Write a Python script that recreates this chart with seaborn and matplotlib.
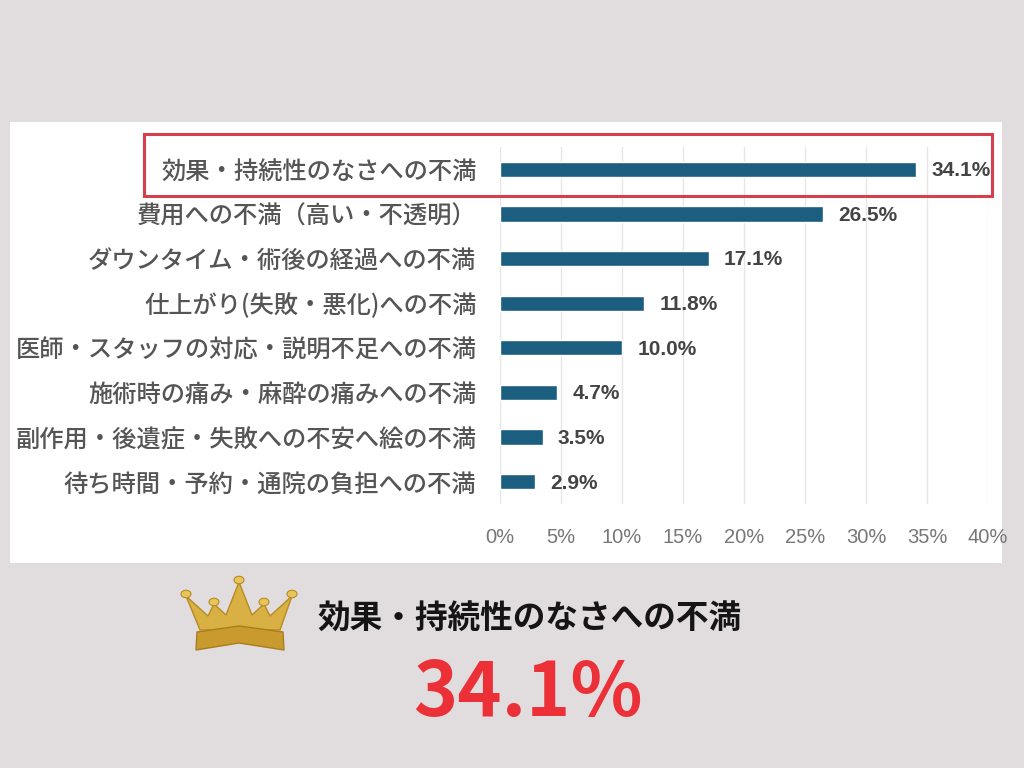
import matplotlib
matplotlib.use("Agg")
import matplotlib.pyplot as plt
from matplotlib.patches import Rectangle, Polygon, Circle
import seaborn as sns
import pandas as pd

categories = [
    "効果・持続性のなさへの不満",
    "費用への不満（高い・不透明）",
    "ダウンタイム・術後の経過への不満",
    "仕上がり(失敗・悪化)への不満",
    "医師・スタッフの対応・説明不足への不満",
    "施術時の痛み・麻酔の痛みへの不満",
    "副作用・後遺症・失敗への不安へ絵の不満",
    "待ち時間・予約・通院の負担への不満",
]
values = [34.1, 26.5, 17.1, 11.8, 10.0, 4.7, 3.5, 2.9]
x_ticks = [0, 5, 10, 15, 20, 25, 30, 35, 40]
x_tick_labels = [f"{t}%" for t in x_ticks]
highlight_label = "効果・持続性のなさへの不満"
highlight_value = "34.1%"

sns.set_theme(style="white")
plt.rcParams["font.family"] = ["Noto Sans CJK JP", "DejaVu Sans"]

W, H = 1024, 768
fig = plt.figure(figsize=(W / 100, H / 100), dpi=100)
fig.patch.set_facecolor("#e1dddf")

def fx(x):
    return x / W

def fy(y):
    return 1 - y / H

# white panel
fig.add_artist(Rectangle((fx(10), fy(563)), fx(1002) - fx(10), fy(122) - fy(563),
                         transform=fig.transFigure, facecolor="white", edgecolor="none", zorder=0))

ax = fig.add_axes([fx(500), fy(504), fx(988) - fx(500), fy(147) - fy(504)])
ax.set_facecolor("none")
df = pd.DataFrame({"cat": categories, "val": values})
sns.barplot(data=df, y="cat", x="val", orient="h", color="#1b5e80", width=0.34,
            saturation=1, ax=ax, zorder=3)
ax.set_xlim(0, 40)
ax.set_ylim(len(categories) - 0.5, -0.5)
ax.set_xticks(x_ticks)
ax.set_xticklabels(x_tick_labels, fontsize=14.5, color="#777777", family=["Liberation Sans", "DejaVu Sans"])
ax.set_yticks(range(len(categories)))
ax.set_yticklabels(categories, fontsize=17.5, color="#555555", fontweight="medium")
ax.tick_params(axis="x", length=0, pad=17)
ax.tick_params(axis="y", length=0, pad=17)
ax.set_xlabel("")
ax.set_ylabel("")
for s in ax.spines.values():
    s.set_visible(False)
ax.xaxis.grid(True, color="#e6e6e6", linewidth=1.0, zorder=0)
ax.yaxis.grid(False)

for i, v in enumerate(values):
    ax.annotate(f"{v:.1f}%", xy=(v, i), xytext=(11, -1), textcoords="offset points",
                ha="left", va="center", fontsize=15, fontweight="bold", color="#444444",
                family=["Liberation Sans", "DejaVu Sans"])

# red highlight box
fig.add_artist(Rectangle((fx(144), fy(196)), fx(992) - fx(144), fy(134) - fy(196),
                         transform=fig.transFigure, facecolor="none", edgecolor="#d6404c",
                         linewidth=2.2, zorder=5))

# crown
crown = [(200, 630), (186, 596), (208, 616), (214, 604), (226, 615), (239, 582),
         (252, 615), (264, 604), (270, 616), (292, 596), (280, 630)]
fig.add_artist(Polygon([(fx(x), fy(y)) for x, y in crown], closed=True,
                       transform=fig.transFigure, facecolor="#d8b043", edgecolor="#b88a22",
                       linewidth=1, zorder=4))
band = [(197, 632), (239, 626), (283, 632), (284, 650), (239, 643), (196, 650)]
fig.add_artist(Polygon([(fx(x), fy(y)) for x, y in band], closed=True,
                       transform=fig.transFigure, facecolor="#c99a2e", edgecolor="#a97d1c",
                       linewidth=1, zorder=4))
for (x, y) in [(186, 594), (214, 602), (239, 580), (264, 602), (292, 594)]:
    fig.add_artist(Circle((fx(x), fy(y)), 5 / W, transform=fig.transFigure,
                          facecolor="#e6c65a", edgecolor="#b88a22", linewidth=0.8, zorder=5))

fig.text(fx(530), fy(619), highlight_label, ha="center", va="center", fontsize=23.5,
         fontweight="bold", color="#151515")
fig.text(fx(528), fy(716), highlight_value, ha="center", va="baseline", fontsize=54,
         fontweight="bold", color="#ec3038", family=["Noto Sans CJK JP", "DejaVu Sans"])

fig.savefig("out.png", dpi=100, facecolor=fig.get_facecolor())
